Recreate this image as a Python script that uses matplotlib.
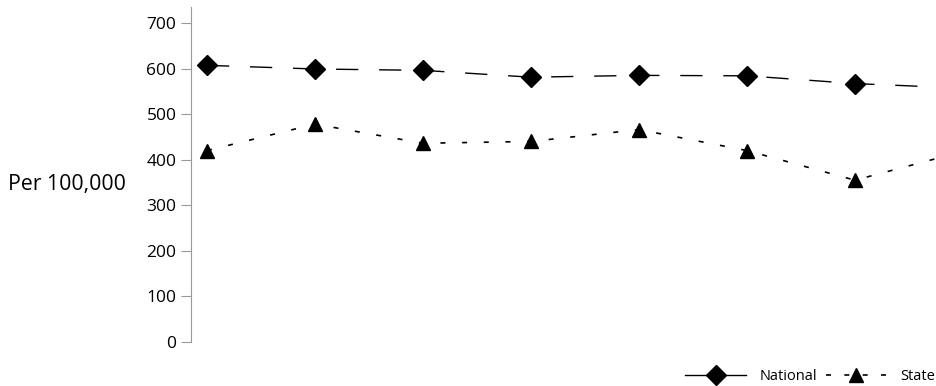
import matplotlib.pyplot as plt
from matplotlib.lines import Line2D

plt.rcParams['font.family'] = ['Open Sans', 'DejaVu Sans']

# valores
pontos = list(range(8))
national = [607, 599, 596, 581, 585, 584, 567, 557]
state = [420, 478, 436, 440, 466, 420, 355, 418]
yticks = [0, 100, 200, 300, 400, 500, 600, 700]

fig = plt.figure(figsize=(9.37, 3.86), dpi=100)
ax = fig.add_axes([191 / 937, 44 / 386, 1 - 191 / 937, (342 - 7) / 386])

ax.plot(pontos, national, color="black", linewidth=1.0, dashes=(16, 15),
        marker="D", markersize=10, label="National")
ax.plot(pontos, state, color="black", linewidth=1.2, dashes=(3, 10),
        marker="^", markersize=10, label="State")

ax.set_xlim(-0.148, 6.76)
ax.set_ylim(0, 735)
ax.set_yticks(yticks)
ax.set_xticks([])
for s in ["top", "right", "bottom"]:
    ax.spines[s].set_visible(False)
ax.spines["left"].set_color("#999999")
ax.spines["left"].set_bounds(0, 735)
ax.tick_params(axis="y", colors="#999999", labelcolor="black", labelsize=12.5, length=7)

fig.text(8 / 937, 1 - 185 / 386, "Per 100,000", fontsize=15.3, va="center", ha="left")

h1 = Line2D([], [], color="black", linewidth=1.0, marker="D", markersize=10)
h2 = Line2D([], [], color="black", linewidth=1.2, dashes=(3, 8), marker="^", markersize=10)
fig.legend([h1, h2], ["National", "State"], loc="lower right",
           bbox_to_anchor=(1.012, -0.03), ncol=2, frameon=False, fontsize=10.5,
           handlelength=4.2, columnspacing=0.6, handletextpad=0.9)

plt.savefig("out.png", dpi=100)
